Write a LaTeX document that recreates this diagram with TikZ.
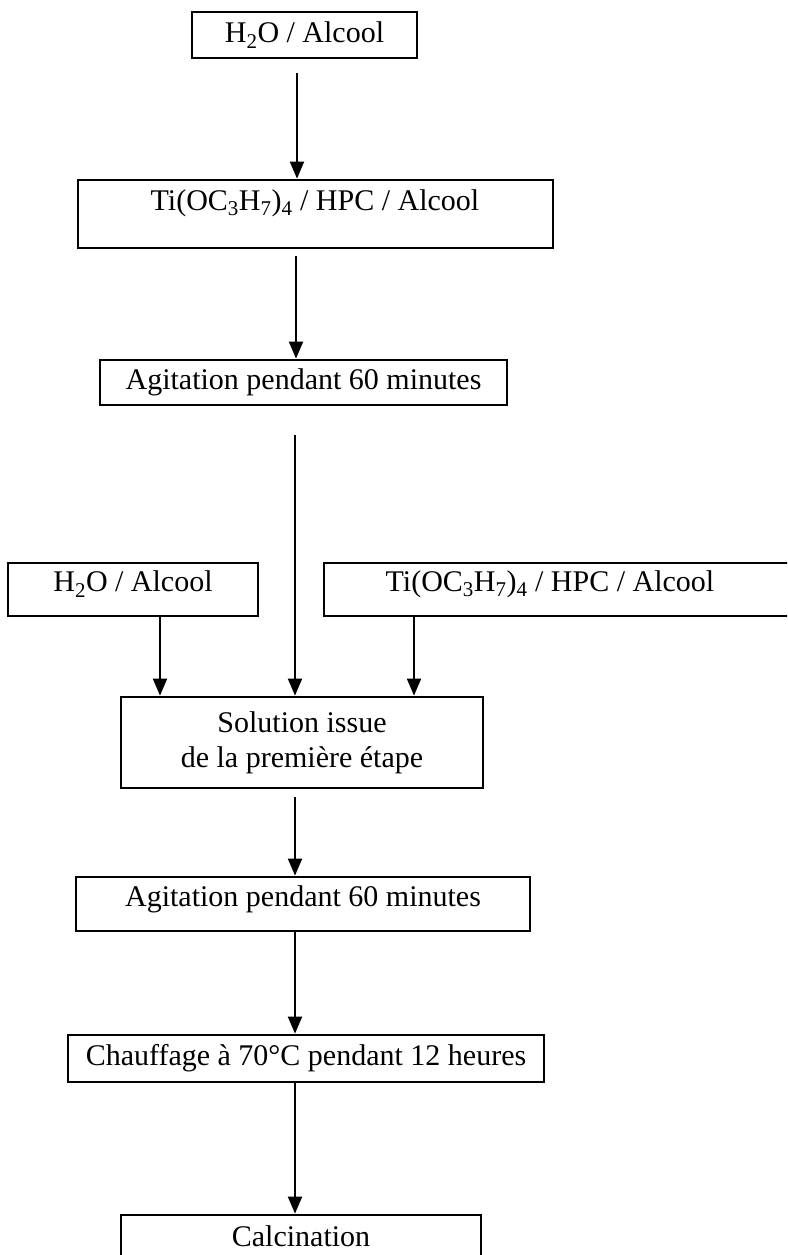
\documentclass[tikz,border=0pt]{standalone}
\usepackage{fontspec}
\setmainfont{Liberation Serif}
\usetikzlibrary{arrows.meta}
\begin{document}
\begin{tikzpicture}[x=1pt,y=-1pt,
  box/.style={draw, line width=2.8pt, rectangle, inner sep=0pt, font=\fontsize{30}{35}\selectfont, align=center},
  txt/.style={inner sep=0pt, font=\fontsize{30}{35}\selectfont, align=center},
  arr/.style={line width=2pt, -{Triangle[length=17pt,width=14pt]}}]
\useasboundingbox (0,0) rectangle (787,1255);
\clip (0,0) rectangle (787,1255);
\fill[white] (0,0) rectangle (787,1255);

\node[box, minimum width=225, minimum height=46] (b1) at (304.5,35) {H\textsubscript{2}O / Alcool};
\node[box, minimum width=475, minimum height=68] (b2) at (315.5,214) {};
\node[txt] (t2) at (315,203) {Ti(OC\textsubscript{3}H\textsubscript{7})\textsubscript{4} / HPC / Alcool};
\node[box, minimum width=407, minimum height=45] (ag1) at (303.5,382.5) {Agitation pendant 60 minutes};
\node[box, minimum width=250, minimum height=53] (b4a) at (133,589.5) {};
\node[txt] (t4a) at (133,584) {H\textsubscript{2}O / Alcool};
\node[box, minimum width=496, minimum height=53] (b4b) at (572,589.5) {};
\node[txt] (t4b) at (550,584) {Ti(OC\textsubscript{3}H\textsubscript{7})\textsubscript{4} / HPC / Alcool};
\node[box, minimum width=362, minimum height=91] (sol) at (302,742.5) {Solution issue\\de la première étape};
\node[box, minimum width=454, minimum height=54] (ag2) at (303,904) {};
\node[txt] (t6) at (303,899) {Agitation pendant 60 minutes};
\node[box, minimum width=476, minimum height=47] (ch) at (306,1058.5) {Chauffage à 70°C pendant 12 heures};
\node[box, minimum width=360, minimum height=80] (cal) at (301,1255) {};
\node[txt] (t8) at (301,1236) {Calcination};

\coordinate (s1) at (297,73);
\draw[arr] (s1) -- (s1 |- b2.north);
\coordinate (s2) at (296,256);
\draw[arr] (s2) -- (s2 |- ag1.north);
\coordinate (s3) at (295,435);
\draw[arr] (s3) -- (s3 |- sol.north);
\path (b4a.south) ++(27,0) coordinate (l);
\draw[arr] (l) -- (l |- sol.north);
\path (b4b.south) ++(-158,0) coordinate (r);
\draw[arr] (r) -- (r |- sol.north);
\coordinate (s4) at (295,797);
\draw[arr] (s4) -- (s4 |- ag2.north);
\path (ag2.south) ++(-8,0) coordinate (s5);
\draw[arr] (s5) -- (s5 |- ch.north);
\path (ch.south) ++(-11,0) coordinate (s6);
\draw[arr] (s6) -- (s6 |- cal.north);
\end{tikzpicture}
\end{document}
